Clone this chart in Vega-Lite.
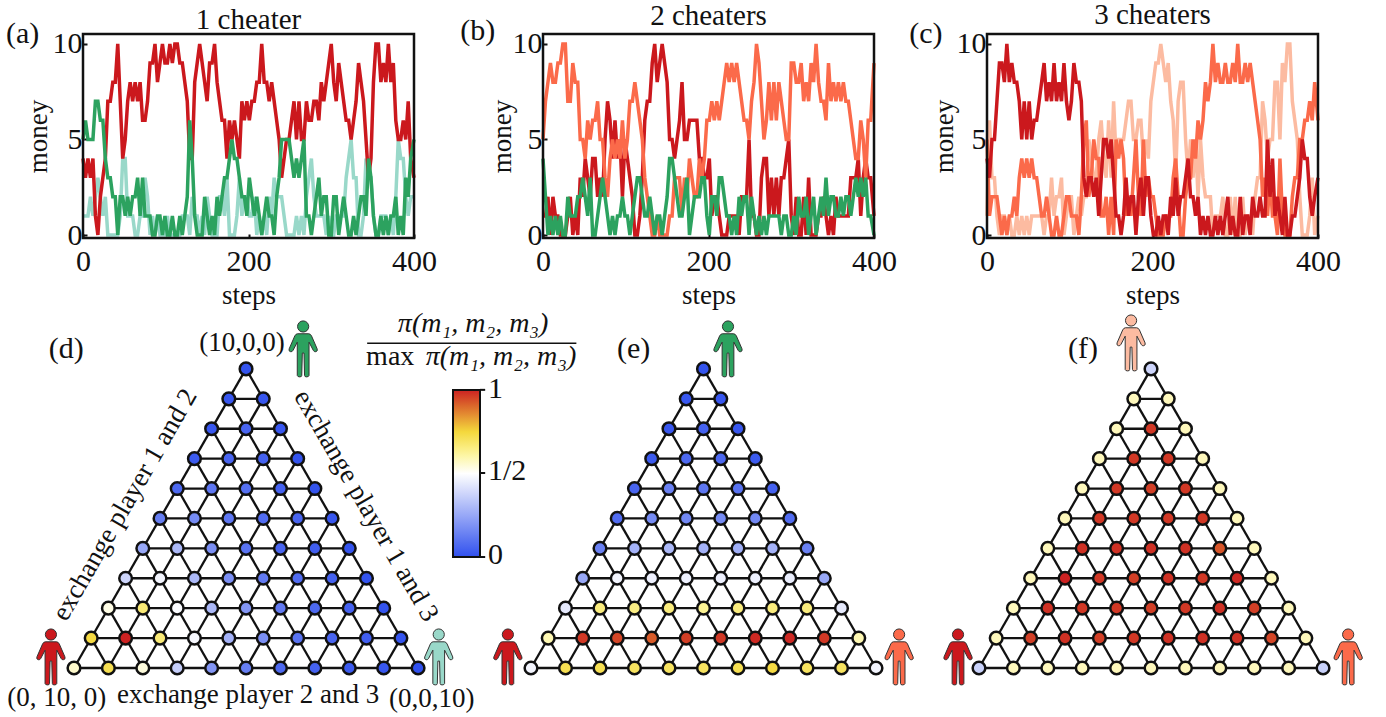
{
"$schema":"https://vega.github.io/schema/vega-lite/v6.json",
"padding":{"left":6,"top":0,"right":0,"bottom":0},
"bounds":"flush",
"spacing":276,
"background":"white",
"resolve":{"scale":{"color":"independent","fill":"independent"}},
"config":{
 "font":"Liberation Serif",
 "view":{"stroke":null},
 "text":{"font":"Liberation Serif","fontSize":27,"color":"#111","align":"center","baseline":"alphabetic"},
 "axis":{"grid":false,"domain":false,"labelFont":"Liberation Serif","titleFont":"Liberation Serif","labelFontSize":30,"titleFontSize":27,"titleFontWeight":"normal","labelColor":"#111","titleColor":"#111","tickColor":"#111","tickSize":-4,"tickWidth":2,"labelOverlap":false,"labelBound":false,"labelFlush":false},
 "title":{"font":"Liberation Serif","fontSize":29,"fontWeight":"normal","color":"#111"}
},
"datasets":{
"edges":[
{"u":0,"m1":0,"u2":10,"m2":0},{"u":0.5,"m1":1,"u2":9.5,"m2":1},{"u":1,"m1":2,"u2":9,"m2":2},{"u":1.5,"m1":3,"u2":8.5,"m2":3},{"u":2,"m1":4,"u2":8,"m2":4},{"u":2.5,"m1":5,"u2":7.5,"m2":5},{"u":3,"m1":6,"u2":7,"m2":6},{"u":3.5,"m1":7,"u2":6.5,"m2":7},{"u":4,"m1":8,"u2":6,"m2":8},{"u":4.5,"m1":9,"u2":5.5,"m2":9},
{"u":0,"m1":0,"u2":5,"m2":10},{"u":1,"m1":0,"u2":5.5,"m2":9},{"u":2,"m1":0,"u2":6,"m2":8},{"u":3,"m1":0,"u2":6.5,"m2":7},{"u":4,"m1":0,"u2":7,"m2":6},{"u":5,"m1":0,"u2":7.5,"m2":5},{"u":6,"m1":0,"u2":8,"m2":4},{"u":7,"m1":0,"u2":8.5,"m2":3},{"u":8,"m1":0,"u2":9,"m2":2},{"u":9,"m1":0,"u2":9.5,"m2":1},
{"u":10,"m1":0,"u2":5,"m2":10},{"u":9,"m1":0,"u2":4.5,"m2":9},{"u":8,"m1":0,"u2":4,"m2":8},{"u":7,"m1":0,"u2":3.5,"m2":7},{"u":6,"m1":0,"u2":3,"m2":6},{"u":5,"m1":0,"u2":2.5,"m2":5},{"u":4,"m1":0,"u2":2,"m2":4},{"u":3,"m1":0,"u2":1.5,"m2":3},{"u":2,"m1":0,"u2":1,"m2":2},{"u":1,"m1":0,"u2":0.5,"m2":1}
],
"nodesD":[
{"u":5,"m1":10,"v":0.01},
{"u":4.5,"m1":9,"v":0.02},{"u":5.5,"m1":9,"v":0.02},
{"u":4,"m1":8,"v":0.02},{"u":5,"m1":8,"v":0.06},{"u":6,"m1":8,"v":0.02},
{"u":3.5,"m1":7,"v":0.03},{"u":4.5,"m1":7,"v":0.06},{"u":5.5,"m1":7,"v":0.05},{"u":6.5,"m1":7,"v":0.01},
{"u":3,"m1":6,"v":0.07},{"u":4,"m1":6,"v":0.11},{"u":5,"m1":6,"v":0.09},{"u":6,"m1":6,"v":0.05},{"u":7,"m1":6,"v":0.01},
{"u":2.5,"m1":5,"v":0.13},{"u":3.5,"m1":5,"v":0.17},{"u":4.5,"m1":5,"v":0.11},{"u":5.5,"m1":5,"v":0.08},{"u":6.5,"m1":5,"v":0.06},{"u":7.5,"m1":5,"v":0.02},
{"u":2,"m1":4,"v":0.25},{"u":3,"m1":4,"v":0.3},{"u":4,"m1":4,"v":0.18},{"u":5,"m1":4,"v":0.1},{"u":6,"m1":4,"v":0.06},{"u":7,"m1":4,"v":0.04},{"u":8,"m1":4,"v":0.01},
{"u":1.5,"m1":3,"v":0.38},{"u":2.5,"m1":3,"v":0.47},{"u":3.5,"m1":3,"v":0.3},{"u":4.5,"m1":3,"v":0.18},{"u":5.5,"m1":3,"v":0.12},{"u":6.5,"m1":3,"v":0.08},{"u":7.5,"m1":3,"v":0.05},{"u":8.5,"m1":3,"v":0.01},
{"u":1,"m1":2,"v":0.53},{"u":2,"m1":2,"v":0.67},{"u":3,"m1":2,"v":0.49},{"u":4,"m1":2,"v":0.3},{"u":5,"m1":2,"v":0.2},{"u":6,"m1":2,"v":0.12},{"u":7,"m1":2,"v":0.07},{"u":8,"m1":2,"v":0.05},{"u":9,"m1":2,"v":0.01},
{"u":0.5,"m1":1,"v":0.74},{"u":1.5,"m1":1,"v":1},{"u":2.5,"m1":1,"v":0.67},{"u":3.5,"m1":1,"v":0.48},{"u":4.5,"m1":1,"v":0.28},{"u":5.5,"m1":1,"v":0.18},{"u":6.5,"m1":1,"v":0.1},{"u":7.5,"m1":1,"v":0.06},{"u":8.5,"m1":1,"v":0.04},{"u":9.5,"m1":1,"v":0.01},
{"u":0,"m1":0,"v":0.56},{"u":1,"m1":0,"v":0.72},{"u":2,"m1":0,"v":0.54},{"u":3,"m1":0,"v":0.36},{"u":4,"m1":0,"v":0.2},{"u":5,"m1":0,"v":0.13},{"u":6,"m1":0,"v":0.07},{"u":7,"m1":0,"v":0.05},{"u":8,"m1":0,"v":0.03},{"u":9,"m1":0,"v":0.02},{"u":10,"m1":0,"v":0}
],
"nodesE":[
{"u":5,"m1":10,"v":0.01},
{"u":4.5,"m1":9,"v":0.02},{"u":5.5,"m1":9,"v":0.02},
{"u":4,"m1":8,"v":0.02},{"u":5,"m1":8,"v":0.05},{"u":6,"m1":8,"v":0.02},
{"u":3.5,"m1":7,"v":0.03},{"u":4.5,"m1":7,"v":0.07},{"u":5.5,"m1":7,"v":0.07},{"u":6.5,"m1":7,"v":0.03},
{"u":3,"m1":6,"v":0.06},{"u":4,"m1":6,"v":0.14},{"u":5,"m1":6,"v":0.11},{"u":6,"m1":6,"v":0.1},{"u":7,"m1":6,"v":0.05},
{"u":2.5,"m1":5,"v":0.08},{"u":3.5,"m1":5,"v":0.17},{"u":4.5,"m1":5,"v":0.16},{"u":5.5,"m1":5,"v":0.17},{"u":6.5,"m1":5,"v":0.16},{"u":7.5,"m1":5,"v":0.08},
{"u":2,"m1":4,"v":0.14},{"u":3,"m1":4,"v":0.28},{"u":4,"m1":4,"v":0.3},{"u":5,"m1":4,"v":0.28},{"u":6,"m1":4,"v":0.27},{"u":7,"m1":4,"v":0.28},{"u":8,"m1":4,"v":0.14},
{"u":1.5,"m1":3,"v":0.25},{"u":2.5,"m1":3,"v":0.47},{"u":3.5,"m1":3,"v":0.46},{"u":4.5,"m1":3,"v":0.46},{"u":5.5,"m1":3,"v":0.46},{"u":6.5,"m1":3,"v":0.46},{"u":7.5,"m1":3,"v":0.45},{"u":8.5,"m1":3,"v":0.25},
{"u":1,"m1":2,"v":0.44},{"u":2,"m1":2,"v":0.66},{"u":3,"m1":2,"v":0.65},{"u":4,"m1":2,"v":0.66},{"u":5,"m1":2,"v":0.63},{"u":6,"m1":2,"v":0.66},{"u":7,"m1":2,"v":0.66},{"u":8,"m1":2,"v":0.66},{"u":9,"m1":2,"v":0.44},
{"u":0.5,"m1":1,"v":0.59},{"u":1.5,"m1":1,"v":0.97},{"u":2.5,"m1":1,"v":0.95},{"u":3.5,"m1":1,"v":0.92},{"u":4.5,"m1":1,"v":0.96},{"u":5.5,"m1":1,"v":0.97},{"u":6.5,"m1":1,"v":0.99},{"u":7.5,"m1":1,"v":0.99},{"u":8.5,"m1":1,"v":0.97},{"u":9.5,"m1":1,"v":0.59},
{"u":0,"m1":0,"v":0.47},{"u":1,"m1":0,"v":0.72},{"u":2,"m1":0,"v":0.72},{"u":3,"m1":0,"v":0.7},{"u":4,"m1":0,"v":0.7},{"u":5,"m1":0,"v":0.7},{"u":6,"m1":0,"v":0.72},{"u":7,"m1":0,"v":0.74},{"u":8,"m1":0,"v":0.7},{"u":9,"m1":0,"v":0.7},{"u":10,"m1":0,"v":0.47}
],
"nodesF":[
{"u":5,"m1":10,"v":0.38},
{"u":4.5,"m1":9,"v":0.58},{"u":5.5,"m1":9,"v":0.58},
{"u":4,"m1":8,"v":0.58},{"u":5,"m1":8,"v":0.97},{"u":6,"m1":8,"v":0.58},
{"u":3.5,"m1":7,"v":0.58},{"u":4.5,"m1":7,"v":0.97},{"u":5.5,"m1":7,"v":0.97},{"u":6.5,"m1":7,"v":0.58},
{"u":3,"m1":6,"v":0.58},{"u":4,"m1":6,"v":0.97},{"u":5,"m1":6,"v":0.96},{"u":6,"m1":6,"v":0.97},{"u":7,"m1":6,"v":0.58},
{"u":2.5,"m1":5,"v":0.58},{"u":3.5,"m1":5,"v":0.97},{"u":4.5,"m1":5,"v":0.97},{"u":5.5,"m1":5,"v":0.97},{"u":6.5,"m1":5,"v":0.97},{"u":7.5,"m1":5,"v":0.58},
{"u":2,"m1":4,"v":0.58},{"u":3,"m1":4,"v":0.98},{"u":4,"m1":4,"v":0.98},{"u":5,"m1":4,"v":0.98},{"u":6,"m1":4,"v":0.98},{"u":7,"m1":4,"v":0.93},{"u":8,"m1":4,"v":0.58},
{"u":1.5,"m1":3,"v":0.58},{"u":2.5,"m1":3,"v":1},{"u":3.5,"m1":3,"v":0.97},{"u":4.5,"m1":3,"v":0.96},{"u":5.5,"m1":3,"v":0.98},{"u":6.5,"m1":3,"v":0.97},{"u":7.5,"m1":3,"v":0.99},{"u":8.5,"m1":3,"v":0.58},
{"u":1,"m1":2,"v":0.58},{"u":2,"m1":2,"v":0.98},{"u":3,"m1":2,"v":0.97},{"u":4,"m1":2,"v":0.97},{"u":5,"m1":2,"v":0.96},{"u":6,"m1":2,"v":0.97},{"u":7,"m1":2,"v":0.98},{"u":8,"m1":2,"v":0.96},{"u":9,"m1":2,"v":0.58},
{"u":0.5,"m1":1,"v":0.58},{"u":1.5,"m1":1,"v":0.96},{"u":2.5,"m1":1,"v":0.98},{"u":3.5,"m1":1,"v":0.96},{"u":4.5,"m1":1,"v":0.97},{"u":5.5,"m1":1,"v":0.98},{"u":6.5,"m1":1,"v":0.98},{"u":7.5,"m1":1,"v":0.98},{"u":8.5,"m1":1,"v":0.95},{"u":9.5,"m1":1,"v":0.58},
{"u":0,"m1":0,"v":0.37},{"u":1,"m1":0,"v":0.58},{"u":2,"m1":0,"v":0.58},{"u":3,"m1":0,"v":0.58},{"u":4,"m1":0,"v":0.58},{"u":5,"m1":0,"v":0.58},{"u":6,"m1":0,"v":0.58},{"u":7,"m1":0,"v":0.58},{"u":8,"m1":0,"v":0.58},{"u":9,"m1":0,"v":0.58},{"u":10,"m1":0,"v":0.37}
],
"runA":[
{"t":0,"p1":5,"p2":4,"p3":1},{"t":3,"p1":6,"p2":3,"p3":1},{"t":6,"p1":5,"p2":4,"p3":1},{"t":9,"p1":5,"p2":3,"p3":2},{"t":12,"p1":5,"p2":4,"p3":1},{"t":15,"p1":7,"p2":1,"p3":2},{"t":18,"p1":7,"p2":0,"p3":3},{"t":21,"p1":6,"p2":2,"p3":2},{"t":24,"p1":6,"p2":3,"p3":1},{"t":27,"p1":4,"p2":4,"p3":2},{"t":30,"p1":3,"p2":7,"p3":0},{"t":33,"p1":3,"p2":7,"p3":0},{"t":36,"p1":2,"p2":8,"p3":0},{"t":39,"p1":2,"p2":8,"p3":0},{"t":42,"p1":0,"p2":10,"p3":0},{"t":45,"p1":2,"p2":7,"p3":1},{"t":48,"p1":2,"p2":4,"p3":4},{"t":51,"p1":1,"p2":5,"p3":4},{"t":54,"p1":2,"p2":7,"p3":1},{"t":57,"p1":1,"p2":8,"p3":1},{"t":60,"p1":2,"p2":7,"p3":1},{"t":63,"p1":2,"p2":8,"p3":0},{"t":66,"p1":3,"p2":7,"p3":0},{"t":69,"p1":1,"p2":8,"p3":1},{"t":72,"p1":3,"p2":6,"p3":1},{"t":75,"p1":1,"p2":6,"p3":3},{"t":78,"p1":1,"p2":7,"p3":2},{"t":81,"p1":1,"p2":9,"p3":0},{"t":84,"p1":0,"p2":9,"p3":1},{"t":87,"p1":0,"p2":10,"p3":0},{"t":90,"p1":1,"p2":8,"p3":1},{"t":93,"p1":1,"p2":9,"p3":0},{"t":96,"p1":0,"p2":10,"p3":0},{"t":99,"p1":1,"p2":9,"p3":0},{"t":102,"p1":0,"p2":9,"p3":1},{"t":105,"p1":0,"p2":10,"p3":0},{"t":108,"p1":1,"p2":9,"p3":0},{"t":111,"p1":0,"p2":10,"p3":0},{"t":114,"p1":0,"p2":10,"p3":0},{"t":117,"p1":1,"p2":9,"p3":0},{"t":120,"p1":0,"p2":9,"p3":1},{"t":123,"p1":1,"p2":8,"p3":1},{"t":126,"p1":2,"p2":7,"p3":1},{"t":129,"p1":6,"p2":4,"p3":0},{"t":132,"p1":4,"p2":4,"p3":2},{"t":135,"p1":1,"p2":8,"p3":1},{"t":138,"p1":0,"p2":9,"p3":1},{"t":141,"p1":0,"p2":10,"p3":0},{"t":144,"p1":0,"p2":9,"p3":1},{"t":147,"p1":2,"p2":8,"p3":0},{"t":150,"p1":1,"p2":7,"p3":2},{"t":153,"p1":0,"p2":9,"p3":1},{"t":156,"p1":1,"p2":9,"p3":0},{"t":159,"p1":0,"p2":10,"p3":0},{"t":162,"p1":2,"p2":8,"p3":0},{"t":165,"p1":1,"p2":7,"p3":2},{"t":168,"p1":2,"p2":6,"p3":2},{"t":171,"p1":3,"p2":6,"p3":1},{"t":174,"p1":3,"p2":4,"p3":3},{"t":177,"p1":4,"p2":6,"p3":0},{"t":180,"p1":5,"p2":5,"p3":0},{"t":183,"p1":4,"p2":6,"p3":0},{"t":186,"p1":4,"p2":5,"p3":1},{"t":189,"p1":3,"p2":4,"p3":3},{"t":192,"p1":2,"p2":7,"p3":1},{"t":195,"p1":2,"p2":6,"p3":2},{"t":198,"p1":1,"p2":7,"p3":2},{"t":201,"p1":3,"p2":6,"p3":1},{"t":204,"p1":2,"p2":7,"p3":1},{"t":207,"p1":1,"p2":7,"p3":2},{"t":210,"p1":2,"p2":8,"p3":0},{"t":213,"p1":1,"p2":8,"p3":1},{"t":216,"p1":0,"p2":10,"p3":0},{"t":219,"p1":1,"p2":8,"p3":1},{"t":222,"p1":2,"p2":8,"p3":0},{"t":225,"p1":1,"p2":7,"p3":2},{"t":228,"p1":1,"p2":8,"p3":1},{"t":231,"p1":0,"p2":7,"p3":3},{"t":234,"p1":2,"p2":6,"p3":2},{"t":237,"p1":3,"p2":5,"p3":2},{"t":240,"p1":5,"p2":3,"p3":2},{"t":243,"p1":5,"p2":4,"p3":1},{"t":246,"p1":5,"p2":5,"p3":0},{"t":249,"p1":5,"p2":5,"p3":0},{"t":252,"p1":4,"p2":6,"p3":0},{"t":255,"p1":3,"p2":7,"p3":0},{"t":258,"p1":4,"p2":5,"p3":1},{"t":261,"p1":3,"p2":7,"p3":0},{"t":264,"p1":4,"p2":5,"p3":1},{"t":267,"p1":5,"p2":5,"p3":0},{"t":270,"p1":1,"p2":7,"p3":2},{"t":273,"p1":1,"p2":6,"p3":3},{"t":276,"p1":0,"p2":6,"p3":4},{"t":279,"p1":1,"p2":7,"p3":2},{"t":282,"p1":2,"p2":7,"p3":1},{"t":285,"p1":3,"p2":6,"p3":1},{"t":288,"p1":1,"p2":8,"p3":1},{"t":291,"p1":2,"p2":7,"p3":1},{"t":294,"p1":2,"p2":8,"p3":0},{"t":297,"p1":0,"p2":9,"p3":1},{"t":300,"p1":0,"p2":10,"p3":0},{"t":303,"p1":2,"p2":8,"p3":0},{"t":306,"p1":2,"p2":7,"p3":1},{"t":309,"p1":0,"p2":9,"p3":1},{"t":312,"p1":1,"p2":8,"p3":1},{"t":315,"p1":2,"p2":7,"p3":1},{"t":318,"p1":1,"p2":6,"p3":3},{"t":321,"p1":0,"p2":6,"p3":4},{"t":324,"p1":0,"p2":5,"p3":5},{"t":327,"p1":1,"p2":6,"p3":3},{"t":330,"p1":0,"p2":7,"p3":3},{"t":333,"p1":1,"p2":9,"p3":0},{"t":336,"p1":2,"p2":8,"p3":0},{"t":339,"p1":2,"p2":7,"p3":1},{"t":342,"p1":1,"p2":5,"p3":4},{"t":345,"p1":4,"p2":3,"p3":3},{"t":348,"p1":3,"p2":4,"p3":3},{"t":351,"p1":1,"p2":8,"p3":1},{"t":354,"p1":0,"p2":10,"p3":0},{"t":357,"p1":0,"p2":10,"p3":0},{"t":360,"p1":1,"p2":8,"p3":1},{"t":363,"p1":0,"p2":9,"p3":1},{"t":366,"p1":1,"p2":8,"p3":1},{"t":369,"p1":0,"p2":10,"p3":0},{"t":372,"p1":1,"p2":8,"p3":1},{"t":375,"p1":1,"p2":9,"p3":0},{"t":378,"p1":2,"p2":6,"p3":2},{"t":381,"p1":0,"p2":5,"p3":5},{"t":384,"p1":1,"p2":5,"p3":4},{"t":387,"p1":0,"p2":6,"p3":4},{"t":390,"p1":3,"p2":5,"p3":2},{"t":393,"p1":2,"p2":7,"p3":1},{"t":396,"p1":4,"p2":4,"p3":2},{"t":400,"p1":5,"p2":3,"p3":2}
],
"runB":[
{"t":0,"p1":4,"p2":1,"p3":5},{"t":3,"p1":2,"p2":1,"p3":7},{"t":6,"p1":0,"p2":2,"p3":8},{"t":9,"p1":1,"p2":0,"p3":9},{"t":12,"p1":0,"p2":2,"p3":8},{"t":15,"p1":1,"p2":1,"p3":8},{"t":18,"p1":0,"p2":1,"p3":9},{"t":21,"p1":1,"p2":0,"p3":9},{"t":24,"p1":0,"p2":0,"p3":10},{"t":27,"p1":0,"p2":0,"p3":10},{"t":30,"p1":2,"p2":1,"p3":7},{"t":33,"p1":1,"p2":2,"p3":7},{"t":36,"p1":1,"p2":0,"p3":9},{"t":39,"p1":1,"p2":1,"p3":8},{"t":42,"p1":2,"p2":0,"p3":8},{"t":45,"p1":2,"p2":3,"p3":5},{"t":48,"p1":3,"p2":2,"p3":5},{"t":51,"p1":2,"p2":4,"p3":4},{"t":54,"p1":1,"p2":3,"p3":6},{"t":57,"p1":3,"p2":2,"p3":5},{"t":60,"p1":0,"p2":4,"p3":6},{"t":63,"p1":0,"p2":4,"p3":6},{"t":66,"p1":1,"p2":2,"p3":7},{"t":69,"p1":2,"p2":3,"p3":5},{"t":72,"p1":3,"p2":2,"p3":5},{"t":75,"p1":2,"p2":5,"p3":3},{"t":78,"p1":1,"p2":7,"p3":2},{"t":81,"p1":0,"p2":6,"p3":4},{"t":84,"p1":1,"p2":4,"p3":5},{"t":87,"p1":0,"p2":6,"p3":4},{"t":90,"p1":1,"p2":4,"p3":5},{"t":93,"p1":1,"p2":5,"p3":4},{"t":96,"p1":2,"p2":2,"p3":6},{"t":99,"p1":1,"p2":5,"p3":4},{"t":102,"p1":1,"p2":4,"p3":5},{"t":105,"p1":0,"p2":3,"p3":7},{"t":108,"p1":1,"p2":2,"p3":7},{"t":111,"p1":2,"p2":0,"p3":8},{"t":114,"p1":3,"p2":0,"p3":7},{"t":117,"p1":3,"p2":1,"p3":6},{"t":120,"p1":2,"p2":3,"p3":5},{"t":123,"p1":1,"p2":6,"p3":3},{"t":126,"p1":1,"p2":7,"p3":2},{"t":129,"p1":2,"p2":7,"p3":1},{"t":132,"p1":1,"p2":9,"p3":0},{"t":135,"p1":0,"p2":10,"p3":0},{"t":138,"p1":1,"p2":8,"p3":1},{"t":141,"p1":1,"p2":9,"p3":0},{"t":144,"p1":0,"p2":10,"p3":0},{"t":147,"p1":1,"p2":9,"p3":0},{"t":150,"p1":2,"p2":8,"p3":0},{"t":153,"p1":4,"p2":5,"p3":1},{"t":156,"p1":4,"p2":5,"p3":1},{"t":159,"p1":3,"p2":4,"p3":3},{"t":162,"p1":2,"p2":5,"p3":3},{"t":165,"p1":1,"p2":6,"p3":3},{"t":168,"p1":1,"p2":8,"p3":1},{"t":171,"p1":2,"p2":5,"p3":3},{"t":174,"p1":3,"p2":5,"p3":2},{"t":177,"p1":0,"p2":6,"p3":4},{"t":180,"p1":1,"p2":6,"p3":3},{"t":183,"p1":2,"p2":6,"p3":2},{"t":186,"p1":2,"p2":6,"p3":2},{"t":189,"p1":2,"p2":4,"p3":4},{"t":192,"p1":3,"p2":4,"p3":3},{"t":195,"p1":3,"p2":3,"p3":4},{"t":198,"p1":1,"p2":3,"p3":6},{"t":201,"p1":0,"p2":4,"p3":6},{"t":204,"p1":2,"p2":1,"p3":7},{"t":207,"p1":2,"p2":2,"p3":6},{"t":210,"p1":1,"p2":2,"p3":7},{"t":213,"p1":3,"p2":1,"p3":6},{"t":216,"p1":3,"p2":0,"p3":7},{"t":219,"p1":2,"p2":0,"p3":8},{"t":222,"p1":1,"p2":0,"p3":9},{"t":225,"p1":1,"p2":1,"p3":8},{"t":228,"p1":0,"p2":1,"p3":9},{"t":231,"p1":1,"p2":1,"p3":8},{"t":234,"p1":0,"p2":1,"p3":9},{"t":237,"p1":2,"p2":0,"p3":8},{"t":240,"p1":1,"p2":2,"p3":7},{"t":243,"p1":2,"p2":2,"p3":6},{"t":246,"p1":2,"p2":2,"p3":6},{"t":249,"p1":0,"p2":5,"p3":5},{"t":252,"p1":2,"p2":1,"p3":7},{"t":255,"p1":1,"p2":1,"p3":8},{"t":258,"p1":0,"p2":0,"p3":10},{"t":261,"p1":1,"p2":0,"p3":9},{"t":264,"p1":0,"p2":3,"p3":7},{"t":267,"p1":1,"p2":4,"p3":5},{"t":270,"p1":0,"p2":4,"p3":6},{"t":273,"p1":1,"p2":1,"p3":8},{"t":276,"p1":1,"p2":3,"p3":6},{"t":279,"p1":1,"p2":1,"p3":8},{"t":282,"p1":1,"p2":3,"p3":6},{"t":285,"p1":1,"p2":1,"p3":8},{"t":288,"p1":0,"p2":3,"p3":7},{"t":291,"p1":1,"p2":3,"p3":6},{"t":294,"p1":1,"p2":4,"p3":5},{"t":297,"p1":0,"p2":5,"p3":5},{"t":300,"p1":0,"p2":1,"p3":9},{"t":303,"p1":1,"p2":0,"p3":9},{"t":306,"p1":0,"p2":2,"p3":8},{"t":309,"p1":2,"p2":0,"p3":8},{"t":312,"p1":1,"p2":0,"p3":9},{"t":315,"p1":1,"p2":2,"p3":7},{"t":318,"p1":2,"p2":0,"p3":8},{"t":321,"p1":0,"p2":3,"p3":7},{"t":324,"p1":1,"p2":0,"p3":9},{"t":327,"p1":2,"p2":0,"p3":8},{"t":330,"p1":0,"p2":0,"p3":10},{"t":333,"p1":1,"p2":1,"p3":8},{"t":336,"p1":2,"p2":1,"p3":7},{"t":339,"p1":1,"p2":2,"p3":7},{"t":342,"p1":3,"p2":1,"p3":6},{"t":345,"p1":1,"p2":0,"p3":9},{"t":348,"p1":2,"p2":1,"p3":7},{"t":351,"p1":2,"p2":0,"p3":8},{"t":354,"p1":1,"p2":2,"p3":7},{"t":357,"p1":1,"p2":1,"p3":8},{"t":360,"p1":2,"p2":1,"p3":7},{"t":363,"p1":1,"p2":1,"p3":8},{"t":366,"p1":2,"p2":1,"p3":7},{"t":369,"p1":2,"p2":1,"p3":7},{"t":372,"p1":1,"p2":3,"p3":6},{"t":375,"p1":2,"p2":3,"p3":5},{"t":378,"p1":3,"p2":3,"p3":4},{"t":381,"p1":2,"p2":4,"p3":4},{"t":384,"p1":3,"p2":1,"p3":6},{"t":387,"p1":2,"p2":3,"p3":5},{"t":390,"p1":3,"p2":4,"p3":3},{"t":393,"p1":1,"p2":3,"p3":6},{"t":396,"p1":1,"p2":3,"p3":6},{"t":400,"p1":0,"p2":1,"p3":9}
],
"runC":[
{"t":0,"p1":1,"p2":4,"p3":5},{"t":3,"p1":6,"p2":3,"p3":1},{"t":6,"p1":3,"p2":5,"p3":2},{"t":9,"p1":3,"p2":5,"p3":2},{"t":12,"p1":1,"p2":7,"p3":2},{"t":15,"p1":0,"p2":9,"p3":1},{"t":18,"p1":1,"p2":9,"p3":0},{"t":21,"p1":1,"p2":8,"p3":1},{"t":24,"p1":0,"p2":10,"p3":0},{"t":27,"p1":1,"p2":8,"p3":1},{"t":30,"p1":0,"p2":9,"p3":1},{"t":33,"p1":0,"p2":8,"p3":2},{"t":36,"p1":1,"p2":8,"p3":1},{"t":39,"p1":0,"p2":7,"p3":3},{"t":42,"p1":1,"p2":5,"p3":4},{"t":45,"p1":0,"p2":7,"p3":3},{"t":48,"p1":1,"p2":5,"p3":4},{"t":51,"p1":0,"p2":7,"p3":3},{"t":54,"p1":1,"p2":5,"p3":4},{"t":57,"p1":1,"p2":6,"p3":3},{"t":60,"p1":1,"p2":6,"p3":3},{"t":63,"p1":1,"p2":7,"p3":2},{"t":66,"p1":1,"p2":8,"p3":1},{"t":69,"p1":0,"p2":9,"p3":1},{"t":72,"p1":1,"p2":7,"p3":2},{"t":75,"p1":1,"p2":8,"p3":1},{"t":78,"p1":3,"p2":7,"p3":0},{"t":81,"p1":1,"p2":9,"p3":0},{"t":84,"p1":2,"p2":7,"p3":1},{"t":87,"p1":2,"p2":8,"p3":0},{"t":90,"p1":3,"p2":7,"p3":0},{"t":93,"p1":0,"p2":9,"p3":1},{"t":96,"p1":1,"p2":7,"p3":2},{"t":99,"p1":2,"p2":6,"p3":2},{"t":102,"p1":2,"p2":7,"p3":1},{"t":105,"p1":0,"p2":9,"p3":1},{"t":108,"p1":1,"p2":8,"p3":1},{"t":111,"p1":2,"p2":8,"p3":0},{"t":114,"p1":1,"p2":7,"p3":2},{"t":117,"p1":2,"p2":3,"p3":5},{"t":120,"p1":2,"p2":2,"p3":6},{"t":123,"p1":5,"p2":3,"p3":2},{"t":126,"p1":4,"p2":3,"p3":3},{"t":129,"p1":3,"p2":2,"p3":5},{"t":132,"p1":3,"p2":3,"p3":4},{"t":135,"p1":5,"p2":1,"p3":4},{"t":138,"p1":6,"p2":3,"p3":1},{"t":141,"p1":4,"p2":5,"p3":1},{"t":144,"p1":3,"p2":5,"p3":2},{"t":147,"p1":6,"p2":4,"p3":0},{"t":150,"p1":3,"p2":5,"p3":2},{"t":153,"p1":7,"p2":3,"p3":0},{"t":156,"p1":4,"p2":1,"p3":5},{"t":159,"p1":5,"p2":1,"p3":4},{"t":162,"p1":5,"p2":0,"p3":5},{"t":165,"p1":5,"p2":1,"p3":4},{"t":168,"p1":6,"p2":3,"p3":1},{"t":171,"p1":7,"p2":1,"p3":2},{"t":174,"p1":7,"p2":2,"p3":1},{"t":177,"p1":5,"p2":2,"p3":3},{"t":180,"p1":5,"p2":0,"p3":5},{"t":183,"p1":6,"p2":2,"p3":2},{"t":186,"p1":6,"p2":3,"p3":1},{"t":189,"p1":4,"p2":1,"p3":5},{"t":192,"p1":5,"p2":3,"p3":2},{"t":195,"p1":4,"p2":3,"p3":3},{"t":198,"p1":7,"p2":1,"p3":2},{"t":201,"p1":8,"p2":0,"p3":2},{"t":204,"p1":9,"p2":0,"p3":1},{"t":207,"p1":9,"p2":1,"p3":0},{"t":210,"p1":10,"p2":0,"p3":0},{"t":213,"p1":9,"p2":1,"p3":0},{"t":216,"p1":8,"p2":1,"p3":1},{"t":219,"p1":9,"p2":0,"p3":1},{"t":222,"p1":7,"p2":2,"p3":1},{"t":225,"p1":6,"p2":1,"p3":3},{"t":228,"p1":3,"p2":3,"p3":4},{"t":231,"p1":7,"p2":1,"p3":2},{"t":234,"p1":8,"p2":2,"p3":0},{"t":237,"p1":8,"p2":2,"p3":0},{"t":240,"p1":5,"p2":3,"p3":2},{"t":243,"p1":3,"p2":4,"p3":3},{"t":246,"p1":5,"p2":2,"p3":3},{"t":249,"p1":3,"p2":2,"p3":5},{"t":252,"p1":5,"p2":1,"p3":4},{"t":255,"p1":2,"p2":2,"p3":6},{"t":258,"p1":5,"p2":0,"p3":5},{"t":261,"p1":3,"p2":1,"p3":6},{"t":264,"p1":2,"p2":0,"p3":8},{"t":267,"p1":2,"p2":1,"p3":7},{"t":270,"p1":2,"p2":0,"p3":8},{"t":273,"p1":0,"p2":0,"p3":10},{"t":276,"p1":1,"p2":1,"p3":8},{"t":279,"p1":1,"p2":0,"p3":9},{"t":282,"p1":1,"p2":1,"p3":8},{"t":285,"p1":2,"p2":0,"p3":8},{"t":288,"p1":0,"p2":1,"p3":9},{"t":291,"p1":0,"p2":2,"p3":8},{"t":294,"p1":2,"p2":0,"p3":8},{"t":297,"p1":0,"p2":1,"p3":9},{"t":300,"p1":2,"p2":0,"p3":8},{"t":303,"p1":0,"p2":0,"p3":10},{"t":306,"p1":0,"p2":2,"p3":8},{"t":309,"p1":2,"p2":0,"p3":8},{"t":312,"p1":0,"p2":1,"p3":9},{"t":315,"p1":1,"p2":1,"p3":8},{"t":318,"p1":1,"p2":0,"p3":9},{"t":321,"p1":0,"p2":2,"p3":8},{"t":324,"p1":2,"p2":1,"p3":7},{"t":327,"p1":3,"p2":1,"p3":6},{"t":330,"p1":3,"p2":2,"p3":5},{"t":333,"p1":7,"p2":1,"p3":2},{"t":336,"p1":6,"p2":1,"p3":3},{"t":339,"p1":4,"p2":5,"p3":1},{"t":342,"p1":5,"p2":2,"p3":3},{"t":345,"p1":5,"p2":4,"p3":1},{"t":348,"p1":8,"p2":1,"p3":1},{"t":351,"p1":8,"p2":2,"p3":0},{"t":354,"p1":5,"p2":1,"p3":4},{"t":357,"p1":9,"p2":0,"p3":1},{"t":360,"p1":8,"p2":2,"p3":0},{"t":363,"p1":10,"p2":0,"p3":0},{"t":366,"p1":10,"p2":0,"p3":0},{"t":369,"p1":7,"p2":1,"p3":2},{"t":372,"p1":6,"p2":1,"p3":3},{"t":375,"p1":5,"p2":2,"p3":3},{"t":378,"p1":2,"p2":3,"p3":5},{"t":381,"p1":0,"p2":5,"p3":5},{"t":384,"p1":0,"p2":4,"p3":6},{"t":387,"p1":0,"p2":4,"p3":6},{"t":390,"p1":1,"p2":2,"p3":7},{"t":393,"p1":3,"p2":1,"p3":6},{"t":396,"p1":0,"p2":2,"p3":8},{"t":400,"p1":1,"p2":3,"p3":6}
]
},
"vconcat":[
{"hconcat":[
 {"width":331,"height":204,"title":{"text":"1 cheater","offset":-16},
  "encoding":{"x":{"field":"t","type":"quantitative","title":"steps","scale":{"domain":[0,400],"nice":false,"zero":false},"axis":{"values":[0,200,400],"labelPadding":12,"titlePadding":6}},
   "y":{"field":"value","type":"quantitative","title":"money","scale":{"domain":[-0.157,10.52],"nice":false,"zero":false},"axis":{"values":[0,5,10],"labelPadding":5,"titlePadding":0}}},
  "layer":[
   {"data":{"name":"runA"},"transform":[{"fold":["p3","p2","p1"]}],"mark":{"type":"line","strokeWidth":3.5},
    "encoding":{"color":{"field":"key","type":"nominal","scale":{"domain":["p1","p2","p3"],"range":["#2ca25f","#cb181d","#99d8c9"]},"legend":null}}},
   {"data":{"values":[{"t":-93,"value":10.05,"label":"(a)"}]},"mark":{"type":"text","align":"left","fontSize":30},"encoding":{"text":{"field":"label"}}},
   {"data":{"values":[{"t":0,"value":10.52},{"t":400,"value":-0.157}]},"mark":{"type":"rect","fill":null,"stroke":"#111","strokeWidth":2.5},"encoding":{"x":{"aggregate":"min","field":"t","type":"quantitative"},"x2":{"aggregate":"max","field":"t"},"y":{"aggregate":"min","field":"value","type":"quantitative"},"y2":{"aggregate":"max","field":"value"}}}
  ]},
 {"hconcat":[
  {"width":331,"height":204,"title":{"text":"2 cheaters","offset":-15},
   "encoding":{"x":{"field":"t","type":"quantitative","title":"steps","scale":{"domain":[0,400],"nice":false,"zero":false},"axis":{"values":[0,200,400],"labelPadding":12,"titlePadding":6}},
    "y":{"field":"value","type":"quantitative","title":"money","scale":{"domain":[-0.157,10.52],"nice":false,"zero":false},"axis":{"values":[0,5,10],"labelPadding":5,"titlePadding":-4}}},
   "layer":[
    {"data":{"name":"runB"},"transform":[{"fold":["p2","p3","p1"]}],"mark":{"type":"line","strokeWidth":3.5},
     "encoding":{"color":{"field":"key","type":"nominal","scale":{"domain":["p1","p2","p3"],"range":["#2ca25f","#cb181d","#fb6a4a"]},"legend":null}}},
    {"data":{"values":[{"t":-100,"value":10.2,"label":"(b)"}]},"mark":{"type":"text","align":"left","fontSize":30},"encoding":{"text":{"field":"label"}}},
    {"data":{"values":[{"t":0,"value":10.52},{"t":400,"value":-0.157}]},"mark":{"type":"rect","fill":null,"stroke":"#111","strokeWidth":2.5},"encoding":{"x":{"aggregate":"min","field":"t","type":"quantitative"},"x2":{"aggregate":"max","field":"t"},"y":{"aggregate":"min","field":"value","type":"quantitative"},"y2":{"aggregate":"max","field":"value"}}}
   ]},
  {"width":331,"height":204,"title":{"text":"3 cheaters","offset":-11},
   "encoding":{"x":{"field":"t","type":"quantitative","title":"steps","scale":{"domain":[0,400],"nice":false,"zero":false},"axis":{"values":[0,200,400],"labelPadding":12,"titlePadding":6}},
    "y":{"field":"value","type":"quantitative","title":"money","scale":{"domain":[-0.157,10.52],"nice":false,"zero":false},"axis":{"values":[0,5,10],"labelPadding":5,"titlePadding":-2}}},
   "layer":[
    {"data":{"name":"runC"},"transform":[{"fold":["p1","p3","p2"]}],"mark":{"type":"line","strokeWidth":3.5},
     "encoding":{"color":{"field":"key","type":"nominal","scale":{"domain":["p1","p2","p3"],"range":["#fcbba1","#cb181d","#fb6a4a"]},"legend":null}}},
    {"data":{"values":[{"t":-94,"value":10.05,"label":"(c)"}]},"mark":{"type":"text","align":"left","fontSize":30},"encoding":{"text":{"field":"label"}}},
    {"data":{"values":[{"t":0,"value":10.52},{"t":400,"value":-0.157}]},"mark":{"type":"rect","fill":null,"stroke":"#111","strokeWidth":2.5},"encoding":{"x":{"aggregate":"min","field":"t","type":"quantitative"},"x2":{"aggregate":"max","field":"t"},"y":{"aggregate":"min","field":"value","type":"quantitative"},"y2":{"aggregate":"max","field":"value"}}}
   ]}
 ],"spacing":113,"bounds":"flush","resolve":{"scale":{"color":"independent","fill":"independent"}}}
],"spacing":129,"bounds":"flush","resolve":{"scale":{"color":"independent","fill":"independent"}}},
{"hconcat":[
 {"width":407,"height":407,
  "encoding":{"x":{"field":"u","type":"quantitative","axis":null,"scale":{"domain":[0.262,12.09],"nice":false,"zero":false}},
   "y":{"field":"m1","type":"quantitative","axis":null,"scale":{"domain":[-1.639,11.97],"nice":false,"zero":false}}},
  "layer":[
   {"data":{"name":"edges"},"mark":{"type":"rule","stroke":"#111","strokeWidth":2.3},"encoding":{"x2":{"field":"u2"},"y2":{"field":"m2"}}},
   {"data":{"name":"nodesD"},"mark":{"type":"point","filled":true,"size":160,"shape":"circle","stroke":"#111","strokeWidth":2.5,"opacity":1},
    "encoding":{"fill":{"field":"v","type":"quantitative","scale":{"domain":[0,0.5,0.62,0.75,1],"range":["#3050ee","#ffffff","#fdf59a","#f4d83c","#cc2222"],"interpolate":"rgb"},
     "legend":{"orient":"none","legendX":370,"legendY":80,"title":null,"gradientLength":167,"gradientThickness":27,"gradientStrokeColor":"#111","gradientStrokeWidth":2,"values":[0,0.5,1],"labels":false,"labelFontSize":1}}}},
   {"data":{"values":[{"u":11.8,"m1":9.3,"u2":11.95},{"u":11.8,"m1":6.52,"u2":11.95},{"u":11.8,"m1":3.71,"u2":11.95}]},"mark":{"type":"rule","stroke":"#111","strokeWidth":2},"encoding":{"x2":{"field":"u2"}}},
   {"data":{"values":[{"u":12.03,"m1":9.03,"label":"1"},{"u":12.03,"m1":6.29,"label":"1/2"},{"u":12.03,"m1":3.48,"label":"0"}]},"mark":{"type":"text","align":"left","fontSize":30},"encoding":{"text":{"field":"label"}}},
   {"data":{"values":[{"u":8.52,"m1":10.86,"u2":14.6}]},"mark":{"type":"rule","stroke":"#111","strokeWidth":1.5},"encoding":{"x2":{"field":"u2"}}},
   {"data":{"values":[{"u":6.66,"m1":10.67,"who":"player 1"},{"u":-0.67,"m1":0.37,"who":"player 2"},{"u":10.6,"m1":0.37,"who":"player 3"}]},
    "mark":{"type":"point","filled":true,"opacity":1,"size":3136,"stroke":"#333","strokeWidth":1,"shape":"M0.2,-0.8A0.2,0.2,0,1,1,-0.2,-0.8A0.2,0.2,0,1,1,0.2,-0.8ZM-0.2,-0.54L0.2,-0.54Q0.26,-0.54,0.3,-0.46L0.5,0.0Q0.53,0.08,0.45,0.1Q0.4,0.12,0.36,0.05L0.21,-0.24L0.21,0.95Q0.2,1,0.12,1Q0.05,1,0.05,0.95L0.03,0.15L-0.03,0.15L-0.05,0.95Q-0.05,1,-0.12,1Q-0.2,1,-0.21,0.95L-0.21,-0.24L-0.36,0.05Q-0.4,0.12,-0.45,0.1Q-0.53,0.08,-0.5,0.0L-0.3,-0.46Q-0.26,-0.54,-0.2,-0.54Z"},
    "encoding":{"fill":{"field":"who","type":"nominal","scale":{"domain":["player 1","player 2","player 3"],"range":["#2ca25f","#cb181d","#99d8c9"]},"legend":null}}},
   {"data":{"values":[{"u":-0.73,"m1":10.37,"label":"(d)"}]},"mark":{"type":"text","align":"left","fontSize":30},"encoding":{"text":{"field":"label"}}},
   {"data":{"values":[{"u":4.88,"m1":10.6,"label":"(10,0,0)"},{"u":-0.5,"m1":-1.27,"label":"(0, 10, 0)"},{"u":5.06,"m1":-1.17,"label":"exchange player 2 and 3"},{"u":10.4,"m1":-1.3,"label":"(0,0,10)"}]},"mark":{"type":"text"},"encoding":{"text":{"field":"label"}}},
   {"data":{"values":[{"u":1.48,"m1":5.45,"label":"exchange player 1 and 2"}]},"mark":{"type":"text","angle":300,"baseline":"middle"},"encoding":{"text":{"field":"label"}}},
   {"data":{"values":[{"u":8.49,"m1":5.42,"label":"exchange player 1 and 3"}]},"mark":{"type":"text","angle":60,"baseline":"middle"},"encoding":{"text":{"field":"label"}}},
   {"data":{"values":[{"u":11.6,"m1":11.24,"label":"π(m₁, m₂, m₃)"},{"u":12.41,"m1":10.13,"label":"π(m₁, m₂, m₃)"}]},"mark":{"type":"text","fontSize":28,"fontStyle":"italic"},"encoding":{"text":{"field":"label"}}},
   {"data":{"values":[{"u":9.19,"m1":10.13,"label":"max"}]},"mark":{"type":"text","fontSize":28},"encoding":{"text":{"field":"label"}}}
  ],"resolve":{"scale":{"fill":"independent"}}},
 {"width":445,"height":407,
  "encoding":{"x":{"field":"u","type":"quantitative","axis":null,"scale":{"domain":[-1.188,11.71],"nice":false,"zero":false}},
   "y":{"field":"m1","type":"quantitative","axis":null,"scale":{"domain":[-1.639,11.97],"nice":false,"zero":false}}},
  "layer":[
   {"data":{"name":"edges"},"mark":{"type":"rule","stroke":"#111","strokeWidth":2.3},"encoding":{"x2":{"field":"u2"},"y2":{"field":"m2"}}},
   {"data":{"name":"nodesE"},"mark":{"type":"point","filled":true,"size":160,"shape":"circle","stroke":"#111","strokeWidth":2.5,"opacity":1},
    "encoding":{"fill":{"field":"v","type":"quantitative","scale":{"domain":[0,0.5,0.62,0.75,1],"range":["#3050ee","#ffffff","#fdf59a","#f4d83c","#cc2222"],"interpolate":"rgb"},"legend":null}}},
   {"data":{"values":[{"u":5.71,"m1":10.67,"who":"player 1"},{"u":-0.67,"m1":0.37,"who":"player 2"},{"u":10.67,"m1":0.37,"who":"player 3"}]},
    "mark":{"type":"point","filled":true,"opacity":1,"size":3136,"stroke":"#333","strokeWidth":1,"shape":"M0.2,-0.8A0.2,0.2,0,1,1,-0.2,-0.8A0.2,0.2,0,1,1,0.2,-0.8ZM-0.2,-0.54L0.2,-0.54Q0.26,-0.54,0.3,-0.46L0.5,0.0Q0.53,0.08,0.45,0.1Q0.4,0.12,0.36,0.05L0.21,-0.24L0.21,0.95Q0.2,1,0.12,1Q0.05,1,0.05,0.95L0.03,0.15L-0.03,0.15L-0.05,0.95Q-0.05,1,-0.12,1Q-0.2,1,-0.21,0.95L-0.21,-0.24L-0.36,0.05Q-0.4,0.12,-0.45,0.1Q-0.53,0.08,-0.5,0.0L-0.3,-0.46Q-0.26,-0.54,-0.2,-0.54Z"},
    "encoding":{"fill":{"field":"who","type":"nominal","scale":{"domain":["player 1","player 2","player 3"],"range":["#2ca25f","#cb181d","#fb6a4a"]},"legend":null}}},
   {"data":{"values":[{"u":2.49,"m1":10.37,"label":"(e)"}]},"mark":{"type":"text","align":"left","fontSize":30},"encoding":{"text":{"field":"label"}}}
  ],"resolve":{"scale":{"fill":"independent"}}},
 {"width":451,"height":407,
  "encoding":{"x":{"field":"u","type":"quantitative","axis":null,"scale":{"domain":[-1.279,11.83],"nice":false,"zero":false}},
   "y":{"field":"m1","type":"quantitative","axis":null,"scale":{"domain":[-1.639,11.97],"nice":false,"zero":false}}},
  "layer":[
   {"data":{"name":"edges"},"mark":{"type":"rule","stroke":"#111","strokeWidth":2.3},"encoding":{"x2":{"field":"u2"},"y2":{"field":"m2"}}},
   {"data":{"name":"nodesF"},"mark":{"type":"point","filled":true,"size":160,"shape":"circle","stroke":"#111","strokeWidth":2.5,"opacity":1},
    "encoding":{"fill":{"field":"v","type":"quantitative","scale":{"domain":[0,0.5,0.62,0.75,1],"range":["#3050ee","#ffffff","#fdf59a","#f4d83c","#cc2222"],"interpolate":"rgb"},"legend":null}}},
   {"data":{"values":[{"u":4.42,"m1":10.87,"who":"player 1"},{"u":-0.61,"m1":0.37,"who":"player 2"},{"u":10.73,"m1":0.37,"who":"player 3"}]},
    "mark":{"type":"point","filled":true,"opacity":1,"size":3136,"stroke":"#333","strokeWidth":1,"shape":"M0.2,-0.8A0.2,0.2,0,1,1,-0.2,-0.8A0.2,0.2,0,1,1,0.2,-0.8ZM-0.2,-0.54L0.2,-0.54Q0.26,-0.54,0.3,-0.46L0.5,0.0Q0.53,0.08,0.45,0.1Q0.4,0.12,0.36,0.05L0.21,-0.24L0.21,0.95Q0.2,1,0.12,1Q0.05,1,0.05,0.95L0.03,0.15L-0.03,0.15L-0.05,0.95Q-0.05,1,-0.12,1Q-0.2,1,-0.21,0.95L-0.21,-0.24L-0.36,0.05Q-0.4,0.12,-0.45,0.1Q-0.53,0.08,-0.5,0.0L-0.3,-0.46Q-0.26,-0.54,-0.2,-0.54Z"},
    "encoding":{"fill":{"field":"who","type":"nominal","scale":{"domain":["player 1","player 2","player 3"],"range":["#fcbba1","#cb181d","#fb6a4a"]},"legend":null}}},
   {"data":{"values":[{"u":2.59,"m1":10.37,"label":"(f)"}]},"mark":{"type":"text","align":"left","fontSize":30},"encoding":{"text":{"field":"label"}}}
  ],"resolve":{"scale":{"fill":"independent"}}}
],"spacing":0,"bounds":"flush","resolve":{"scale":{"color":"independent","fill":"independent"}}}
]}
